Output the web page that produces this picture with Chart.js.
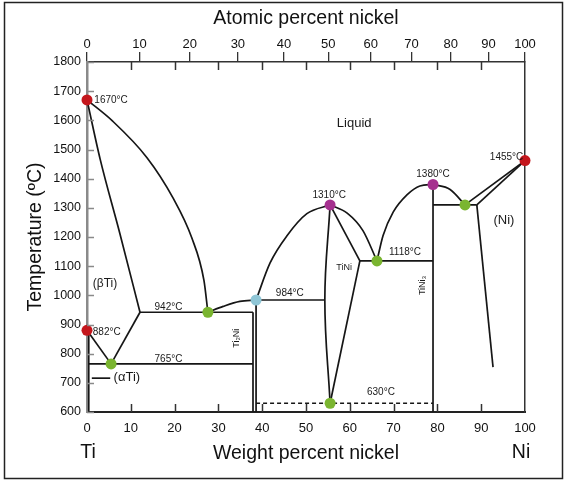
<!DOCTYPE html>
<html>
<head>
<meta charset="utf-8">
<script src="https://cdn.jsdelivr.net/npm/chart.js@4.4.0/dist/chart.umd.min.js"></script>
<style>
  body { margin: 0; background: #fff; }
  #wrap { width: 565px; height: 482px; }
</style>
</head>
<body>
<div id="wrap"><canvas id="phase" width="565" height="482"></canvas></div>
<script>
// Ti-Ni phase diagram, composition in weight percent nickel, temperature in °C
const tempTicks = [600, 700, 800, 900, 1000, 1100, 1200, 1300, 1400, 1500, 1600, 1700, 1800];
const wtTicks = [0, 10, 20, 30, 40, 50, 60, 70, 80, 90, 100];
const atTicks = [0, 10, 20, 30, 40, 50, 60, 70, 80, 90, 100];

// phase boundaries [wt% Ni, °C]
const liquidusTi = [[0, 1670], [5.8, 1598], [13.7, 1472], [19.6, 1335], [23.9, 1198], [26.7, 1051], [27.6, 942]];
const solidusBetaTi = [[0, 1670], [3.0, 1467], [7.5, 1212], [12.1, 942]];
const solvusBetaTi = [[12.1, 942], [5.5, 765]];
const alphaBeta = [[0, 880], [5.5, 765]];
const alphaTi = [[0.4, 880], [0.4, 600]];
const alphaLeader = [[1.1, 716], [5.3, 716]];
const eutectic942 = [[12.1, 942], [37.9, 942]];
const eutectoid765 = [[0.4, 765], [37.9, 765]];
const liquidusTi2Ni = [[27.6, 942], [31.1, 962], [34.9, 979], [38.6, 984]];
const ti2NiLeft = [[37.9, 942], [37.9, 600]];
const ti2NiRight = [[38.6, 984], [38.6, 600]];
const peritectic984 = [[38.6, 984], [54.3, 984]];
const liquidusTiNiLeft = [[38.6, 984], [41.8, 1111], [45.7, 1205], [50.2, 1280], [55.5, 1310]];
const tiNiLeft = [[55.5, 1310], [54.3, 984], [55.5, 630]];
const tiNiSolidus = [[55.5, 1310], [62.3, 1118]];
const tiNiRight = [[62.3, 1118], [55.5, 630]];
const liquidusTiNiRight = [[55.5, 1310], [59.4, 1282], [63.0, 1222], [66.2, 1118]];
const eutectic1118 = [[62.3, 1118], [79, 1118]];
const liquidusTiNi3Left = [[66.2, 1118], [67.6, 1205], [69.9, 1285], [73.1, 1345], [76.0, 1375], [79, 1380]];
const tiNi3 = [[79, 1380], [79, 600]];
const liquidusTiNi3Right = [[79, 1380], [82.9, 1363], [86.3, 1310]];
const eutectic1310 = [[79, 1310], [89, 1310]];
const liquidusNi = [[86.3, 1310], [100, 1462]];
const solidusNi = [[89, 1310], [100, 1462]];
const solvusNi = [[89, 1310], [92.7, 754]];
const order630 = [[38.6, 630], [79, 630]];

// special points
const meltPoints = [[0, 1670], [0, 880], [100, 1462]];
const congruentPoints = [[55.5, 1310], [79, 1380]];
const invariantPoints = [[5.5, 765], [27.6, 942], [55.5, 630], [66.2, 1118], [86.3, 1310]];
const peritecticPoints = [[38.6, 984]];

// labels [text, wt% Ni, °C]
const tempLabels = [
  ['1670°C', 5.5, 1670], ['882°C', 4.5, 873], ['942°C', 18.6, 959], ['765°C', 18.6, 781],
  ['984°C', 46.3, 1007], ['1310°C', 55.3, 1342], ['1118°C', 72.6, 1147], ['1380°C', 79, 1414],
  ['1455°C', 95.8, 1474], ['630°C', 67.1, 668]
];
const phaseLabels = [
  ['Liquid', 61, 1588, 13], ['(βTi)', 4.1, 1041, 12], ['(αTi)', 9.1, 718, 13],
  ['TiNi', 58.7, 1096, 9], ['(Ni)', 95.2, 1256, 13]
];
const compoundLabels = [['Ti₂Ni', 34.2, 853], ['TiNi₃', 76.7, 1034]];

const FONT = '"Liberation Sans", Arial, sans-serif';

function atToWt(a) {
  const ni = 58.69, ti = 47.87;
  return 100 * a * ni / (a * ni + (100 - a) * ti);
}

function toXY(pts) {
  return pts.map(p => ({ x: p[0], y: p[1] }));
}

function increasing(pts) {
  return pts.every((p, i) => i === 0 || p[0] > pts[i - 1][0]);
}

const boundaries = [
  liquidusTi, solidusBetaTi, solvusBetaTi, alphaBeta, alphaTi, alphaLeader, eutectic942,
  eutectoid765, liquidusTi2Ni, ti2NiLeft, ti2NiRight, peritectic984, liquidusTiNiLeft,
  tiNiLeft, tiNiSolidus, tiNiRight, liquidusTiNiRight, eutectic1118, liquidusTiNi3Left,
  tiNi3, liquidusTiNi3Right, eutectic1310, liquidusNi, solidusNi, solvusNi
];

const datasets = boundaries.map(b => {
  const curved = b.length > 2;
  return {
    data: toXY(b),
    showLine: true,
    borderColor: '#161616',
    borderWidth: 1.7,
    pointRadius: 0,
    tension: curved ? 0.4 : 0,
    cubicInterpolationMode: curved && increasing(b) ? 'monotone' : 'default',
    order: 1
  };
});

datasets.push({
  data: toXY(order630), showLine: true, borderColor: '#161616', borderWidth: 1.7,
  borderDash: [4, 3], pointRadius: 0, order: 1
});

function markers(pts, color) {
  return { data: toXY(pts), showLine: false, pointRadius: 5.5, pointHoverRadius: 5.5,
    backgroundColor: color, borderWidth: 0, clip: false, order: 0 };
}
datasets.push(markers(meltPoints, '#c4161c'));
datasets.push(markers(congruentPoints, '#a5308f'));
datasets.push(markers(invariantPoints, '#7ab530'));
datasets.push(markers(peritecticPoints, '#8fc6d6'));

const decorations = {
  id: 'decorations',
  afterDraw(chart) {
    const ctx = chart.ctx;
    const x = chart.scales.x, y = chart.scales.y;
    const area = chart.chartArea;
    ctx.save();

    // inward ticks
    ctx.lineWidth = 1.5;
    ctx.strokeStyle = '#8a8a8a';
    tempTicks.forEach(t => {
      const py = Math.round(y.getPixelForValue(t)) + 0.5;
      ctx.beginPath(); ctx.moveTo(area.left, py); ctx.lineTo(area.left + 7, py); ctx.stroke();
    });
    ctx.strokeStyle = '#333';
    wtTicks.slice(1, -1).forEach(v => {
      const px = Math.round(x.getPixelForValue(v)) + 0.5;
      ctx.beginPath(); ctx.moveTo(px, area.bottom); ctx.lineTo(px, area.bottom - 8); ctx.stroke();
      ctx.beginPath(); ctx.moveTo(px, area.top); ctx.lineTo(px, area.top + 8); ctx.stroke();
    });

    // temperature labels
    ctx.fillStyle = '#1a1a1a';
    ctx.textAlign = 'center';
    ctx.textBaseline = 'middle';
    ctx.font = '10px ' + FONT;
    tempLabels.forEach(l => ctx.fillText(l[0], x.getPixelForValue(l[1]), y.getPixelForValue(l[2])));

    phaseLabels.forEach(l => {
      ctx.font = l[3] + 'px ' + FONT;
      ctx.fillText(l[0], x.getPixelForValue(l[1]), y.getPixelForValue(l[2]));
    });

    ctx.font = '9px ' + FONT;
    compoundLabels.forEach(l => {
      ctx.save();
      ctx.translate(x.getPixelForValue(l[1]), y.getPixelForValue(l[2]));
      ctx.rotate(-Math.PI / 2);
      ctx.fillText(l[0], 0, 0);
      ctx.restore();
    });

    // element names under the axis ends
    ctx.font = '19.5px ' + FONT;
    ctx.fillStyle = '#111';
    ctx.fillText('Ti', x.getPixelForValue(0) + 1, 453);
    ctx.fillText('Ni', x.getPixelForValue(100) - 4, 453);

    // outer frame
    ctx.lineWidth = 1.5;
    ctx.strokeStyle = '#222';
    ctx.strokeRect(4.5, 2.5, 558, 476);
    ctx.restore();
  }
};

const tickFont = { family: FONT, size: 12.5 };
const titleFont = { family: FONT, size: 19.5 };

new Chart(document.getElementById('phase'), {
  type: 'scatter',
  data: { datasets: datasets },
  options: {
    responsive: false,
    animation: false,
    layout: { padding: 0 },
    plugins: { legend: { display: false }, tooltip: { enabled: false } },
    scales: {
      x: {
        type: 'linear', position: 'bottom', min: 0, max: 100,
        afterBuildTicks: s => { s.ticks = wtTicks.map(v => ({ value: v })); },
        afterFit: s => { s.height = 70; },
        ticks: { autoSkip: false, maxRotation: 0, padding: 9, color: '#111', font: { family: FONT, size: 13 },
          callback: v => String(v) },
        grid: { drawOnChartArea: false, drawTicks: false },
        border: { color: '#222', width: 2 },
        title: { display: true, text: 'Weight percent nickel', color: '#111', font: titleFont, padding: { top: 0, bottom: 17 } }
      },
      xTop: {
        type: 'linear', position: 'top', min: 0, max: 100,
        afterBuildTicks: s => { s.ticks = atTicks.map(a => ({ value: atToWt(a) })); },
        afterFit: s => { s.height = 62; },
        ticks: { autoSkip: false, maxRotation: 0, padding: 0, color: '#111', font: { family: FONT, size: 13 },
          callback: (v, i) => String(atTicks[i]) },
        grid: { drawOnChartArea: false, drawTicks: true, tickLength: 10, color: '#333', lineWidth: 1.3 },
        border: { color: '#333', width: 1.5 },
        title: { display: true, text: 'Atomic percent nickel', color: '#111', font: titleFont, padding: { top: 7, bottom: 0 } }
      },
      y: {
        type: 'linear', position: 'left', min: 600, max: 1800,
        afterBuildTicks: s => { s.ticks = tempTicks.map(v => ({ value: v })); },
        afterFit: s => { s.width = 87; },
        ticks: { autoSkip: false, padding: 6, color: '#111', font: tickFont, callback: v => String(v) },
        grid: { drawOnChartArea: false, drawTicks: false },
        border: { color: '#8a8a8a', width: 2.5 },
        title: { display: true, text: 'Temperature (ºC)', color: '#111', font: titleFont, padding: { top: 24, bottom: 0 } }
      },
      yRight: {
        type: 'linear', position: 'right', min: 600, max: 1800,
        afterFit: s => { s.width = 40; },
        ticks: { display: false },
        grid: { drawOnChartArea: false, drawTicks: false },
        border: { color: '#333', width: 1.5 }
      }
    }
  },
  plugins: [decorations]
});
</script>
</body>
</html>
